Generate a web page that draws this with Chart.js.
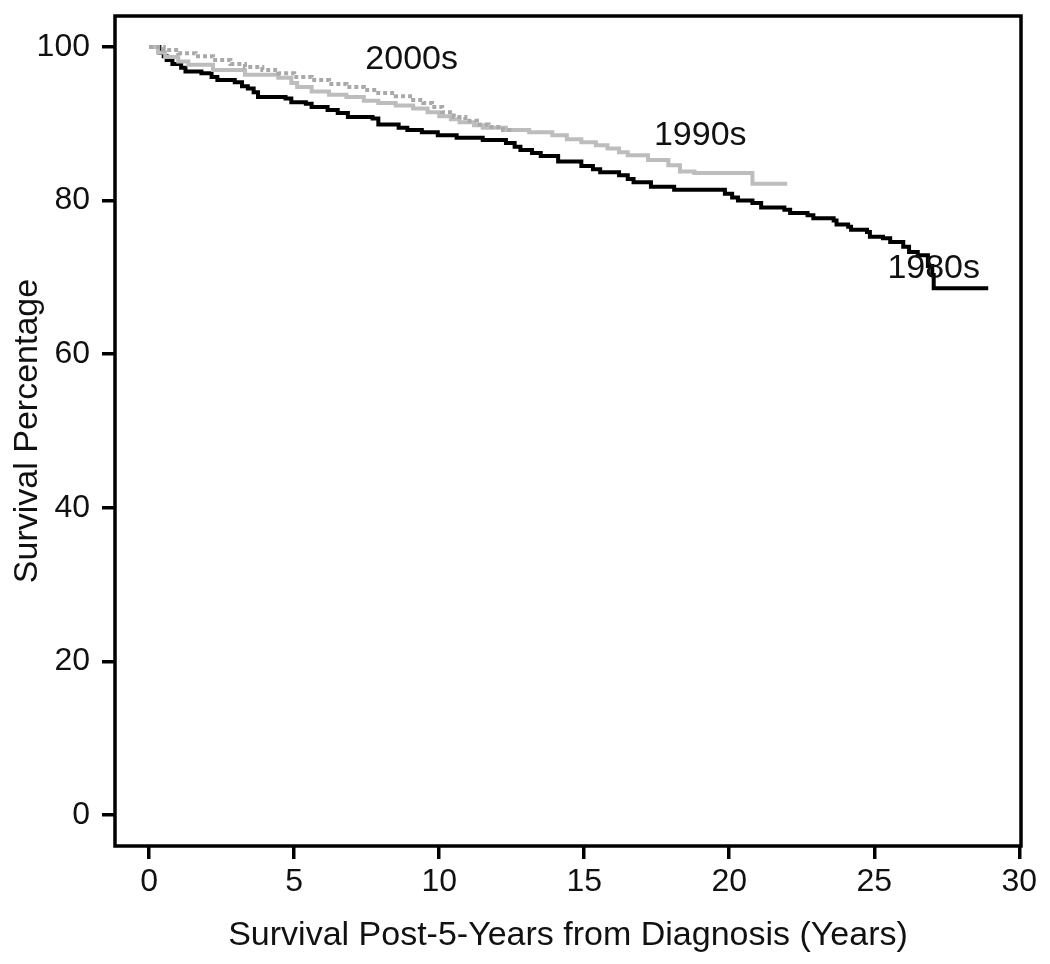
<!DOCTYPE html>
<html>
<head>
<meta charset="utf-8">
<title>Survival Post-5-Years</title>
<script src="https://cdn.jsdelivr.net/npm/chart.js@4/dist/chart.umd.min.js"></script>
<style>
  html, body { margin: 0; padding: 0; background: #fff; }
  #wrap { width: 1050px; height: 964px; }
</style>
</head>
<body>
<div id="wrap"><canvas id="km" width="1050" height="964"></canvas></div>
<script>
// Kaplan-Meier steps: time (years) of each drop, survival % after it
var t1980 = [0, 0.35, 0.5, 0.6, 0.8, 1.1, 1.25, 1.8, 2.15, 2.35, 2.95, 3.2, 3.4, 3.6, 3.75, 4.7, 4.9, 5.4, 5.6,
             6.15, 6.5, 6.85, 7.7, 7.9, 8.6, 8.9, 9.4, 9.95, 10.6, 11.5, 12.3, 12.6, 12.8, 13.2, 13.5, 14.1,
             14.9, 15.3, 15.55, 16.2, 16.5, 16.7, 17.3, 18.1, 19.85, 20.1, 20.3, 20.8, 21.1, 21.9, 22.1, 22.7,
             22.9, 23.6, 23.7, 24.1, 24.2, 24.75, 24.85, 25.3, 25.55, 26.0, 26.2, 26.5, 26.85, 27.0, 27.05, 28.93];
var s1980 = [100, 99.3, 98.8, 98.3, 97.8, 97.3, 96.8, 96.6, 96.1, 95.7, 95.4, 94.9, 94.6, 94.1, 93.5, 93.3, 92.8, 92.6, 92.2,
             91.8, 91.4, 90.9, 90.7, 89.9, 89.5, 89.2, 88.9, 88.5, 88.2, 87.9, 87.5, 87.0, 86.6, 86.2, 85.8, 85.1,
             84.5, 84.1, 83.7, 83.3, 82.8, 82.4, 81.8, 81.4, 80.9, 80.4, 80.0, 79.7, 79.1, 78.8, 78.4, 78.1,
             77.7, 77.4, 76.9, 76.6, 76.2, 75.9, 75.3, 75.1, 74.6, 74.0, 73.3, 72.9, 71.5, 70.3, 68.6, 68.6];

var t1990 = [0, 0.3, 0.55, 1.0, 1.35, 2.2, 3.3, 4.45, 4.9, 5.1, 5.6, 6.2, 6.8, 7.4, 7.9, 8.5, 9.1, 9.6, 10.0,
             10.4, 10.7, 11.2, 11.5, 12.3, 13.1, 13.9, 14.4, 14.9, 15.4, 15.8, 16.2, 16.5, 17.2, 17.9, 18.3,
             18.8, 20.8, 22.0];
var s1990 = [100, 99.3, 98.7, 98.1, 97.7, 97.0, 96.4, 96.0, 95.3, 94.8, 94.2, 93.8, 93.5, 93.0, 92.7, 92.4, 92.0, 91.5, 91.0,
             90.6, 90.2, 89.8, 89.5, 89.2, 88.9, 88.5, 88.0, 87.6, 87.2, 86.8, 86.3, 85.9, 85.3, 84.6, 83.8,
             83.6, 82.2, 82.2];

var t2000 = [0, 0.5, 1.0, 1.6, 2.2, 2.8, 3.3, 3.9, 4.45, 5.0, 5.6, 6.2, 6.8, 7.4, 7.9, 8.5, 9.1, 9.45, 9.75,
             10.1, 10.5, 10.9, 11.3, 11.7, 12.2, 12.5];
var s2000 = [100, 99.6, 99.2, 98.8, 98.3, 97.8, 97.4, 97.0, 96.6, 96.1, 95.7, 95.2, 94.8, 94.4, 94.0, 93.6, 93.1, 92.7, 92.2,
             91.5, 90.9, 90.4, 89.9, 89.6, 89.2, 89.1];

var xTicks = [0, 5, 10, 15, 20, 25, 30];
var yTicks = [0, 20, 40, 60, 80, 100];

// curve labels: text, x (years), y (%)
var labelText = ['2000s', '1990s', '1980s'];
var labelX = [9.05, 19.0, 27.05];
var labelY = [98.3, 88.5, 71.2];

function pts(t, s) {
    return t.map(function (v, i) { return { x: v, y: s[i] }; });
}

var FONT = "'Liberation Sans', Arial, sans-serif";

// box around the plot + the three curve labels
var frame = {
    id: 'frame',
    afterDatasetsDraw: function (chart) {
        var ctx = chart.ctx, a = chart.chartArea;
        var xs = chart.scales.x, ys = chart.scales.y;
        ctx.save();
        ctx.font = '34px ' + FONT;
        ctx.fillStyle = '#111';
        ctx.textAlign = 'center';
        ctx.textBaseline = 'middle';
        labelText.forEach(function (txt, i) {
            ctx.fillText(txt, xs.getPixelForValue(labelX[i]), ys.getPixelForValue(labelY[i]));
        });
        ctx.strokeStyle = '#000';
        ctx.lineWidth = 3.5;
        ctx.strokeRect(a.left, a.top, a.right - a.left, a.bottom - a.top);
        ctx.restore();
    }
};

function noPad(s) {
    s.paddingTop = 0; s.paddingBottom = 0; s.paddingLeft = 0; s.paddingRight = 0;
}

new Chart(document.getElementById('km'), {
    type: 'scatter',
    data: {
        datasets: [
            { label: '2000s', data: pts(t2000, s2000), borderColor: '#a9a9a9', borderWidth: 4, borderDash: [4, 3] },
            { label: '1990s', data: pts(t1990, s1990), borderColor: '#bdbdbd', borderWidth: 4 },
            { label: '1980s', data: pts(t1980, s1980), borderColor: '#000', borderWidth: 4 }
        ]
    },
    options: {
        responsive: false,
        animation: false,
        showLine: true,
        layout: { padding: { left: 0, top: 16, right: 29, bottom: 0 } },
        elements: {
            point: { radius: 0, hoverRadius: 0 },
            line: { stepped: true, tension: 0, fill: false }
        },
        plugins: { legend: { display: false }, tooltip: { enabled: false } },
        scales: {
            x: {
                type: 'linear',
                min: -1.18,
                max: 30.06,
                afterBuildTicks: function (s) { s.ticks = xTicks.map(function (v) { return { value: v }; }); },
                afterFit: function (s) { s.height = 118; noPad(s); },
                border: { display: false },
                grid: { drawOnChartArea: false, drawTicks: true, tickLength: 13, tickColor: '#000', tickWidth: 3.5, lineWidth: 3.5 },
                ticks: { color: '#111', padding: 4, maxRotation: 0, font: { family: FONT, size: 32 } },
                title: {
                    display: true,
                    text: 'Survival Post-5-Years from Diagnosis (Years)',
                    color: '#111',
                    padding: { top: 0, bottom: 8 },
                    font: { family: FONT, size: 34 }
                }
            },
            y: {
                type: 'linear',
                min: -4.04,
                max: 104.04,
                afterBuildTicks: function (s) { s.ticks = yTicks.map(function (v) { return { value: v }; }); },
                afterFit: function (s) { s.width = 115; noPad(s); },
                border: { display: false },
                grid: { drawOnChartArea: false, drawTicks: true, tickLength: 13, tickColor: '#000', tickWidth: 3.5, lineWidth: 3.5 },
                ticks: { color: '#111', padding: 12, font: { family: FONT, size: 32 } },
                title: {
                    display: true,
                    text: 'Survival Percentage',
                    color: '#111',
                    padding: { top: 7, bottom: 0 },
                    font: { family: FONT, size: 34 }
                }
            }
        }
    },
    plugins: [frame]
});
</script>
</body>
</html>
